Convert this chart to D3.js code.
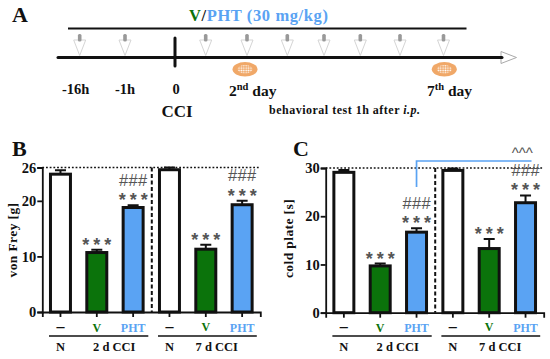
<!DOCTYPE html>
<html>
<head>
<meta charset="utf-8">
<script src="https://cdn.jsdelivr.net/npm/d3@7"></script>
<style>
html, body { margin: 0; padding: 0; background: #fff; }
svg { display: block; }
text { font-family: "Liberation Serif", serif; font-weight: bold; fill: #111; }
</style>
</head>
<body>
<div id="chart"></div>
<script>
var barNames = ['N', 'V2', 'PHT2', 'N7', 'V7', 'PHT7'];
var barLabels = ['–', 'V', 'PHT', '–', 'V', 'PHT'];

var frey_mean = [24.8, 10.7, 18.8, 25.6, 11.3, 19.3];
var frey_err = [0.7, 0.5, 0.4, 0.4, 0.8, 0.7];
var frey_ticks = [0, 10, 20, 26];
var frey_stars = [0, 3, 3, 0, 3, 3];
var frey_hash = [0, 0, 3, 0, 0, 3];

var cold_mean = [29.1, 9.7, 16.7, 29.5, 13.3, 22.8];
var cold_err = [0.5, 0.5, 0.8, 0.4, 2.0, 1.5];
var cold_ticks = [0, 10, 20, 30];
var cold_stars = [0, 3, 3, 0, 3, 3];
var cold_hash = [0, 0, 3, 0, 0, 3];

var doseSlots = ['-16h', '-1h', 'd0', 'd1', 'd2', 'd3', 'd4', 'd5', 'd6', 'd7'];
var doseTimes = ['-16h', '-1h', 'd1', 'd2', 'd3', 'd4', 'd5', 'd6', 'd7'];
var testDays = ['d2', 'd7'];
var hourLabels = ['-16h', '-1h'];

var WIDTH = 550, HEIGHT = 359;
var GREEN = '#0b730b', BLUE = '#5aa3f3', GREY = '#555';
var fills = ['#fff', GREEN, BLUE, '#fff', GREEN, BLUE];

var svg = d3.select('#chart').append('svg')
    .attr('width', WIDTH)
    .attr('height', HEIGHT);

var defs = svg.append('defs');
var dots = defs.append('pattern')
    .attr('id', 'dots')
    .attr('width', 2.4).attr('height', 2.4)
    .attr('patternUnits', 'userSpaceOnUse');
dots.append('rect').attr('width', 2.4).attr('height', 2.4).attr('fill', '#f0a868');
dots.append('circle').attr('cx', 1.2).attr('cy', 1.2).attr('r', 0.85).attr('fill', '#fff');

function label(g, x, y, txt, size, anchor, color){
    return g.append('text')
        .attr('x', x).attr('y', y)
        .attr('text-anchor', anchor || 'middle')
        .style('font-size', size + 'px')
        .style('fill', color || '#111')
        .text(txt);
}

function repeat(ch, n){
    return d3.range(n).map(function(){ return ch; }).join('');
}

// panel A, the timeline
function drawTimeline(){
    var g = svg.append('g').attr('id', 'timeline');
    var x = d3.scaleOrdinal()
        .domain(doseSlots)
        .range([79.7, 125, 175, 205.7, 247, 287.3, 324, 360.3, 400, 443.5]);

    label(g, 12, 21.7, 'A', 22, 'start');

    var head = g.append('text').attr('x', 189).attr('y', 21).style('font-size', '16.5px').style('letter-spacing', '0.6px');
    head.append('tspan').style('fill', GREEN).text('V');
    head.append('tspan').text('/');
    head.append('tspan').style('fill', BLUE).text('PHT (30 mg/kg)');

    g.append('line').attr('x1', 68).attr('x2', 466.5).attr('y1', 28.5).attr('y2', 28.5)
        .attr('stroke', '#111').attr('stroke-width', 2);

    var arrows = g.selectAll('.dose').data(doseTimes).enter().append('g')
        .attr('class', 'dose')
        .attr('transform', function(d){ return 'translate(' + x(d) + ',0)'; });
    arrows.append('path')
        .attr('d', 'M-6,40L6,40L0,55.5Z')
        .attr('fill', '#fff').attr('stroke', '#d5d5d5').attr('stroke-width', 1);
    arrows.append('rect')
        .attr('x', -1.8).attr('y', 34).attr('width', 3.6).attr('height', 7.5).attr('rx', 1.5)
        .attr('fill', '#999');

    g.append('path').attr('d', 'M501,51.5L516.5,57.5L501,63.5Z')
        .attr('fill', '#fff').attr('stroke', '#aaa').attr('stroke-width', 1);
    g.append('line').attr('x1', 58).attr('x2', 502).attr('y1', 57.5).attr('y2', 57.5)
        .attr('stroke', '#111').attr('stroke-width', 3).attr('stroke-linecap', 'round');
    g.append('line').attr('x1', x('d0')).attr('x2', x('d0')).attr('y1', 38).attr('y2', 66)
        .attr('stroke', '#111').attr('stroke-width', 3).attr('stroke-linecap', 'round');

    var tests = g.selectAll('.test').data(testDays).enter().append('g')
        .attr('class', 'test')
        .attr('transform', function(d){ return 'translate(' + (x(d) - 2 + (d == 'd7' ? 2.8 : 0)) + ',69.3)'; });
    tests.append('ellipse').attr('rx', 12.5).attr('ry', 7.3).attr('fill', '#f0a868');
    tests.append('ellipse').attr('rx', 7.5).attr('ry', 4.2).attr('fill', 'url(#dots)');

    hourLabels.forEach(function(d, i){
        label(g, x(d) + (i == 0 ? -4 : 0), 93.5, d, 14.5);
    });
    label(g, 176, 93.5, '0', 14.5);
    label(g, 177, 116.5, 'CCI', 17);

    function dayLabel(px, num, suf){
        var t = g.append('text').attr('x', px).attr('y', 95.5).style('font-size', '15.5px');
        t.append('tspan').text(num);
        t.append('tspan').attr('dy', -5.5).style('font-size', '10.5px').text(suf);
        t.append('tspan').attr('dy', 5.5).text(' day');
    }
    dayLabel(229, '2', 'nd');
    dayLabel(427, '7', 'th');

    var note = g.append('text').attr('x', 269).attr('y', 114).style('font-size', '12px').style('letter-spacing', '0.5px');
    note.append('tspan').text('behavioral test 1h after ');
    note.append('tspan').style('font-style', 'italic').text('i.p.');
}

// panels B and C have the same layout, only values and offsets differ
function drawPanel(o){
    var g = svg.append('g').attr('id', 'panel-' + o.letter);
    var x = d3.scaleBand().domain(barNames).range([o.left, o.left + 218]).paddingInner(0.45).paddingOuter(0.225);
    var y = d3.scaleLinear().domain([0, o.max]).range([o.bottom, o.top]);
    var rows = barNames.map(function(d, i){
        return {name: d, i: i, mean: o.mean[i], err: o.err[i], stars: o.stars[i], hash: o.hash[i]};
    });

    label(g, o.letterX, 156, o.letter, 22, 'start');

    g.append('line').attr('x1', o.left).attr('x2', o.left + 218)
        .attr('y1', y(o.max)).attr('y2', y(o.max))
        .attr('stroke', '#111').attr('stroke-width', 1.5).attr('stroke-dasharray', '1.8 1.9');
    g.append('line').attr('x1', o.left + 109.5).attr('x2', o.left + 109.5)
        .attr('y1', y(o.max)).attr('y2', y(0))
        .attr('stroke', '#111').attr('stroke-width', 2).attr('stroke-dasharray', '4 2.5');

    g.selectAll('.err').data(rows).enter().append('path')
        .attr('class', 'err')
        .attr('d', function(d){
            var c = x(d.name) + x.bandwidth() / 2;
            return 'M' + c + ',' + y(d.mean) + 'V' + y(d.mean + d.err) + 'M' + (c - 5.5) + ',' + y(d.mean + d.err) + 'H' + (c + 5.5);
        })
        .attr('fill', 'none').attr('stroke', '#111').attr('stroke-width', 2);

    g.selectAll('.bar').data(rows).enter().append('rect')
        .attr('class', 'bar')
        .attr('x', function(d){ return x(d.name); })
        .attr('width', x.bandwidth())
        .attr('y', function(d){ return y(d.mean); })
        .attr('height', function(d){ return y(0) - y(d.mean); })
        .attr('fill', function(d){ return fills[d.i]; })
        .attr('stroke', '#111').attr('stroke-width', 3);

    var yAxis = d3.axisLeft(y).tickValues(o.ticks).tickSize(5).tickPadding(1).tickFormat(d3.format('d'));
    var ya = g.append('g').attr('transform', 'translate(' + o.left + ',0)').call(yAxis);
    var xAxis = d3.axisBottom(x).tickSize(5).tickFormat('');
    var xa = g.append('g').attr('transform', 'translate(0,' + y(0) + ')').call(xAxis);
    ya.selectAll('path,line').attr('stroke', '#111').attr('stroke-width', 1.8);
    xa.selectAll('path,line').attr('stroke', '#111').attr('stroke-width', 1.8);
    ya.selectAll('text').style('font-size', '14.5px').style('font-family', '"Liberation Serif", serif').style('font-weight', 'bold').attr('fill', '#111');

    g.append('text')
        .attr('transform', 'translate(' + o.titleX + ',' + o.titleY + ')rotate(-90)')
        .attr('text-anchor', 'middle')
        .style('font-size', '13.5px')
        .style('letter-spacing', '0.4px')
        .text(o.title);

    g.selectAll('.stars').data(rows.filter(function(d){ return d.stars; })).enter().append('text')
        .attr('class', 'stars')
        .attr('x', function(d){ return x(d.name) + x.bandwidth() / 2 + 2; })
        .attr('y', function(d){ return y(d.mean + d.err) + 1; })
        .attr('text-anchor', 'middle')
        .style('font-family', '"Liberation Sans", sans-serif')
        .style('font-weight', 'bold')
        .style('font-size', '18px')
        .style('letter-spacing', '4px')
        .style('fill', GREY)
        .text(function(d){ return repeat('*', d.stars); });

    g.selectAll('.hash').data(rows.filter(function(d){ return d.hash; })).enter().append('text')
        .attr('class', 'hash')
        .attr('x', function(d){ return x(d.name) + x.bandwidth() / 2 + 0.2; })
        .attr('y', function(d){ return y(d.mean + d.err) - 19.5; })
        .attr('text-anchor', 'middle')
        .style('font-family', '"Liberation Sans", sans-serif')
        .style('font-weight', 'normal')
        .style('font-size', '16.5px')
        .style('letter-spacing', '0.3px')
        .style('fill', GREY)
        .text(function(d){ return repeat('#', d.hash); });

    g.selectAll('.cat').data(rows).enter().append('text')
        .attr('class', 'cat')
        .attr('x', function(d){ return x(d.name) + x.bandwidth() / 2; })
        .attr('y', function(d){ return d.name == 'V7' ? 330.5 : 331.5; })
        .attr('text-anchor', 'middle')
        .style('font-size', function(d){ return d.i % 3 == 0 ? '16px' : '12px'; })
        .style('fill', function(d){ return d.i % 3 == 0 ? '#111' : fills[d.i]; })
        .text(function(d){ return barLabels[d.i]; });

    g.append('line').attr('x1', x('N') - 1.5).attr('x2', o.left + 106).attr('y1', 336).attr('y2', 336)
        .attr('stroke', '#111').attr('stroke-width', 1.7);
    g.append('line').attr('x1', x('N7') - 1.5).attr('x2', o.left + 214.5).attr('y1', 336).attr('y2', 336)
        .attr('stroke', '#111').attr('stroke-width', 1.7);

    label(g, x('N') + x.bandwidth() / 2, 350.5, 'N', 12.5);
    label(g, o.left + 72, 350.5, '2 d CCI', 12.5);
    label(g, x('N7') + x.bandwidth() / 2, 350.5, 'N', 12.5);
    label(g, o.left + 174.5, 350.5, '7 d CCI', 12.5);

    return {g: g, x: x, y: y};
}

drawTimeline();

drawPanel({
    letter: 'B', title: 'von Frey [g]', letterX: 12, titleX: 16.5, titleY: 240,
    left: 42.3, top: 167.5, bottom: 312, max: 26,
    mean: frey_mean, err: frey_err, stars: frey_stars, hash: frey_hash, ticks: frey_ticks
});

var panelC = drawPanel({
    letter: 'C', title: 'cold plate [s]', letterX: 293, titleX: 292.5, titleY: 238.5,
    left: 325.7, top: 168, bottom: 312.7, max: 30,
    mean: cold_mean, err: cold_err, stars: cold_stars, hash: cold_hash, ticks: cold_ticks
});

// comparison bracket between the two PHT bars
var bx = panelC.x('PHT2') + panelC.x.bandwidth() / 2;
var bx2 = panelC.x('PHT7') + panelC.x.bandwidth() / 2;
panelC.g.append('path')
    .attr('d', 'M' + bx + ',187V161H' + (bx2 + 6))
    .attr('fill', 'none').attr('stroke', BLUE).attr('stroke-width', 1.7);
panelC.g.append('text')
    .attr('x', bx2 - 3.3).attr('y', 157.5)
    .attr('text-anchor', 'middle')
    .style('font-family', '"Liberation Sans", sans-serif')
    .style('font-weight', 'normal')
    .style('font-size', '15px')
    .style('fill', GREY)
    .text(repeat('^', 3));
</script>
</body>
</html>
